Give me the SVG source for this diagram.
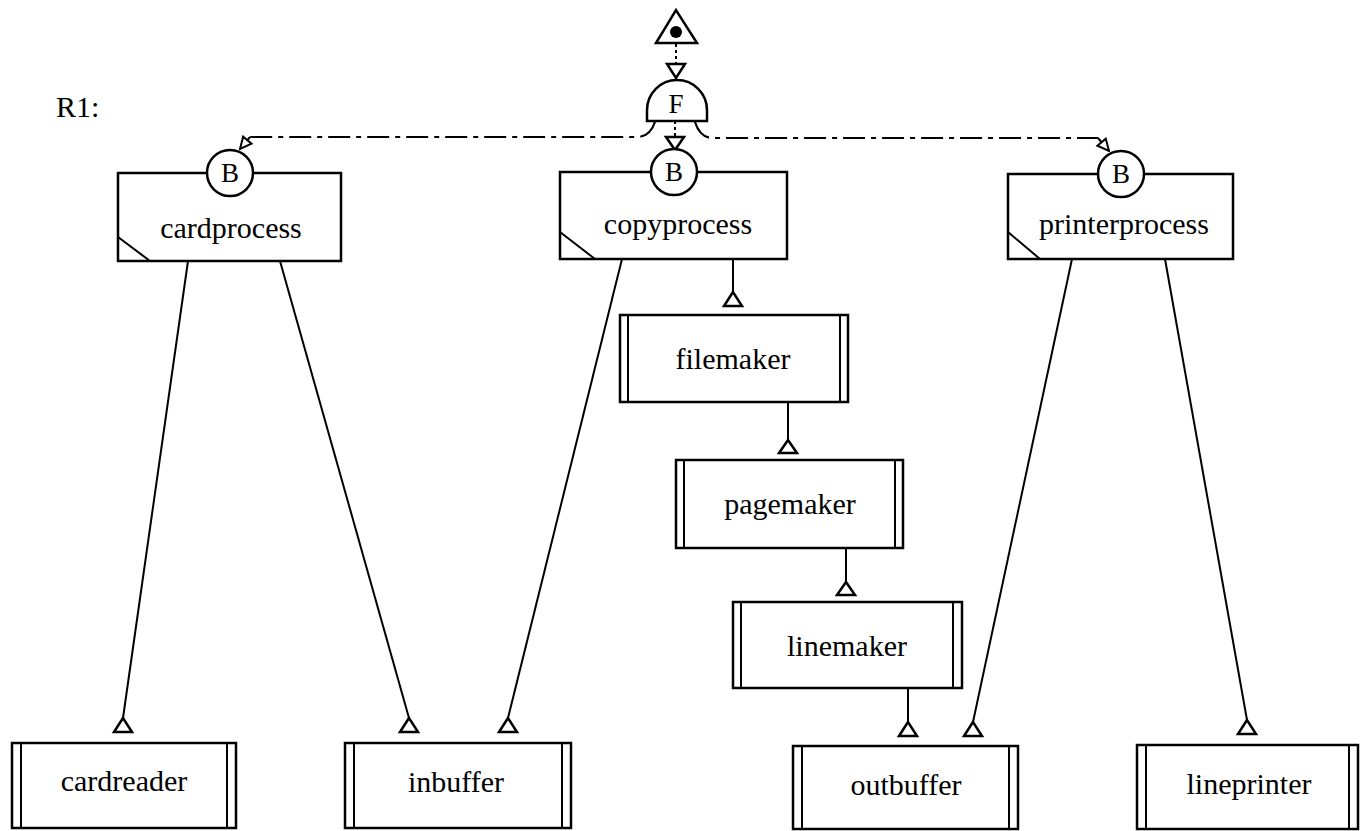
<svg xmlns="http://www.w3.org/2000/svg" width="1361" height="831" viewBox="0 0 1361 831">
<defs>
<style>
.box{fill:#fff;stroke:#000;stroke-width:2.5}
.ln{fill:none;stroke:#000;stroke-width:2}
.bar{stroke:#000;stroke-width:2}
.tri{fill:#fff;stroke:#000;stroke-width:2.5;stroke-linejoin:miter}
.t{font-family:"Liberation Serif","Times New Roman",serif;font-size:30px;text-anchor:middle;fill:#000}
.b{font-family:"Liberation Serif","Times New Roman",serif;font-size:27px;text-anchor:middle;fill:#000}
.dot{fill:none;stroke:#000;stroke-width:2;stroke-dasharray:3 3}
.dd{fill:none;stroke:#000;stroke-width:2.2;stroke-dasharray:22 6 5 6}
</style>
<marker id="hollow" viewBox="0 0 14 14" refX="13" refY="7" markerWidth="14" markerHeight="14" markerUnits="userSpaceOnUse" orient="auto">
<path d="M1.5,1.5 L13,7 L1.5,12.5 Z" fill="#fff" stroke="#000" stroke-width="2"/>
</marker>
</defs>
<rect width="1361" height="831" fill="#fff"/>

<text x="56" y="117" class="t" style="text-anchor:start">R1:</text>

<g id="connectors">
<line class="dot" x1="676" y1="44" x2="676" y2="64"/>
<polygon class="tri" points="667,64 685,64 676,78"/>
<line class="dot" x1="675" y1="121" x2="675" y2="137"/>
<polygon class="tri" points="666,137 684,137 675,150"/>
<path class="dd" d="M655,122 Q650,137 637,137 L250,137"/>
<path class="ln" d="M250,137 L240,149" marker-end="url(#hollow)"/>
<path class="dd" d="M695,122 Q700,138 713,138 L1098,138"/>
<path class="ln" d="M1098,138 L1109,151" marker-end="url(#hollow)"/>

<line class="ln" x1="188" y1="261" x2="123" y2="718"/>
<line class="ln" x1="280" y1="261" x2="409" y2="718"/>
<line class="ln" x1="622" y1="259" x2="508" y2="718"/>
<line class="ln" x1="733" y1="259" x2="733" y2="292"/>
<line class="ln" x1="788" y1="402" x2="788" y2="440"/>
<line class="ln" x1="846" y1="548" x2="846" y2="582"/>
<line class="ln" x1="908" y1="688" x2="908" y2="722"/>
<line class="ln" x1="1072" y1="259" x2="973" y2="722"/>
<line class="ln" x1="1165" y1="259" x2="1247" y2="720"/>

<polygon class="tri" points="123,718 114,732 132,732"/>
<polygon class="tri" points="409,718 400,732 418,732"/>
<polygon class="tri" points="508,718 499,732 517,732"/>
<polygon class="tri" points="733,292 724,306 742,306"/>
<polygon class="tri" points="788,440 779,453 797,453"/>
<polygon class="tri" points="846,582 837,595 855,595"/>
<polygon class="tri" points="908,722 899,736 917,736"/>
<polygon class="tri" points="973,722 964,736 982,736"/>
<polygon class="tri" points="1247,720 1238,734 1256,734"/>
</g>

<g id="start">
<polygon class="tri" points="656,43 697,43 676,10"/>
<circle cx="676" cy="32" r="6" fill="#000"/>
</g>

<g id="fork">
<path class="box" d="M647,121 L647,110 A30,30 0 0 1 707,110 L707,121 Z"/>
<text x="676" y="113" class="b">F</text>
</g>

<g id="cardprocess">
<rect class="box" x="118" y="173" width="223" height="88"/>
<line class="ln" x1="118" y1="237" x2="150" y2="261"/>
<circle class="box" cx="230" cy="173" r="23"/>
<text x="230" y="182" class="b">B</text>
<text x="231" y="238" class="t">cardprocess</text>
</g>

<g id="copyprocess">
<rect class="box" x="560" y="172" width="227" height="87"/>
<line class="ln" x1="560" y1="232" x2="595" y2="259"/>
<circle class="box" cx="674" cy="172" r="23"/>
<text x="674" y="181" class="b">B</text>
<text x="678" y="234" class="t">copyprocess</text>
</g>

<g id="printerprocess">
<rect class="box" x="1008" y="174" width="225" height="85"/>
<line class="ln" x1="1008" y1="232" x2="1040" y2="259"/>
<circle class="box" cx="1121" cy="174" r="23"/>
<text x="1121" y="183" class="b">B</text>
<text x="1124" y="234" class="t">printerprocess</text>
</g>

<g id="filemaker">
<rect class="box" x="620" y="315" width="228" height="87"/>
<line class="bar" x1="628" y1="315" x2="628" y2="402"/>
<line class="bar" x1="840" y1="315" x2="840" y2="402"/>
<text x="733" y="369" class="t">filemaker</text>
</g>

<g id="pagemaker">
<rect class="box" x="676" y="460" width="227" height="88"/>
<line class="bar" x1="684" y1="460" x2="684" y2="548"/>
<line class="bar" x1="895" y1="460" x2="895" y2="548"/>
<text x="790" y="514" class="t">pagemaker</text>
</g>

<g id="linemaker">
<rect class="box" x="733" y="602" width="229" height="86"/>
<line class="bar" x1="741" y1="602" x2="741" y2="688"/>
<line class="bar" x1="953" y1="602" x2="953" y2="688"/>
<text x="847" y="656" class="t">linemaker</text>
</g>

<g id="cardreader">
<rect class="box" x="12" y="743" width="224" height="85"/>
<line class="bar" x1="21" y1="743" x2="21" y2="828"/>
<line class="bar" x1="227" y1="743" x2="227" y2="828"/>
<text x="124" y="791" class="t">cardreader</text>
</g>

<g id="inbuffer">
<rect class="box" x="345" y="743" width="226" height="85"/>
<line class="bar" x1="354" y1="743" x2="354" y2="828"/>
<line class="bar" x1="562" y1="743" x2="562" y2="828"/>
<text x="456" y="792" class="t">inbuffer</text>
</g>

<g id="outbuffer">
<rect class="box" x="793" y="746" width="225" height="83"/>
<line class="bar" x1="802" y1="746" x2="802" y2="829"/>
<line class="bar" x1="1009" y1="746" x2="1009" y2="829"/>
<text x="906" y="795" class="t">outbuffer</text>
</g>

<g id="lineprinter">
<rect class="box" x="1137" y="745" width="221" height="84"/>
<line class="bar" x1="1146" y1="745" x2="1146" y2="829"/>
<line class="bar" x1="1349" y1="745" x2="1349" y2="829"/>
<text x="1249" y="794" class="t">lineprinter</text>
</g>
</svg>
